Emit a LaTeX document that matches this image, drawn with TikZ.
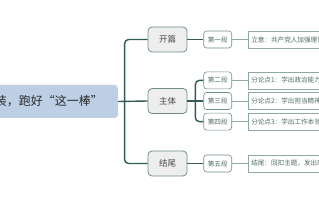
\documentclass[tikz,border=0pt]{standalone}
\usepackage{fontspec}
\newfontfamily\cjk{Noto Sans CJK SC}
\usetikzlibrary{positioning}
\definecolor{trunkc}{HTML}{2F5D55}
\definecolor{rootfill}{HTML}{BCCFE5}
\definecolor{partfill}{HTML}{EDEEED}
\definecolor{boxline}{HTML}{6F908A}
\definecolor{leafline}{HTML}{8EA8A2}
\definecolor{leaftext}{HTML}{4F6B66}
\definecolor{textc}{HTML}{2B2B2B}

\begin{document}
\begin{tikzpicture}[
  x=1pt, y=-1pt,
  font=\cjk,
  root/.style={fill=rootfill, rounded corners=3pt, minimum height=33pt,
               inner xsep=15pt, text=textc, font=\cjk\fontsize{12}{13}\selectfont},
  part/.style={draw=boxline, line width=0.8pt, fill=partfill, rounded corners=4pt,
               minimum width=39pt, minimum height=25pt, text=textc!85,
               font=\cjk\fontsize{8.5}{9}\selectfont},
  para/.style={draw=boxline, line width=0.6pt, fill=white, rounded corners=3pt,
               minimum width=28pt, minimum height=17pt, inner sep=1pt, text=leaftext,
               font=\cjk\fontsize{6.6}{7}\selectfont},
  point/.style={draw=leafline, line width=0.5pt, fill=white, minimum height=17pt,
                text width=100pt, align=left, inner xsep=3pt, text=leaftext,
                font=\cjk\fontsize{6.6}{7}\selectfont},
  trunk/.style={draw=trunkc, line width=1.4pt},
  twig/.style={draw=leafline, line width=0.6pt},
]
  \useasboundingbox (0,0) rectangle (319,200);

  \node[root, anchor=east] (theme) at (118,101.5) {装，跑好“这一棒”};

  \node[part] (open)  at (167.5,39.5) {开篇};
  \node[part] (body)  at (167.5,101)  {主体};
  \node[part] (close) at (167.5,163.5) {结尾};

  \node[para, right=16pt of open]  (p1) {第一段};
  \node[para, right=16pt of body]  (p3) {第三段};
  \node[para, above=3pt of p3]     (p2) {第二段};
  \node[para, below=3pt of p3]     (p4) {第四段};
  \node[para, right=16pt of close] (p5) {第五段};

  \node[point, right=16pt of p1] (t1) {立意：共产党人加强理论};
  \node[point, right=16pt of p2] (t2) {分论点1：学出政治能力};
  \node[point, right=16pt of p3] (t3) {分论点2：学出担当精神};
  \node[point, right=16pt of p4] (t4) {分论点3：学出工作本领};
  \node[point, right=16pt of p5] (t5) {结尾：回扣主题，发出时};

  % branches
  \coordinate (fork)  at ([xshift=-23pt]body.west);
  \coordinate (split) at ([xshift=8pt]body.east);
  \draw[trunk] (theme.east) -- (body.west);
  \draw[trunk, rounded corners=4pt] (open.west) -| (fork) |- (close.west);
  \draw[trunk] (open.east) -- (p1.west);
  \draw[trunk] (body.east) -- (p3.west);
  \draw[trunk, rounded corners=4pt] (p2.west) -| (split) |- (p4.west);
  \draw[trunk] (close.east) -- (p5.west);

  \foreach \a/\b in {p1/t1, p2/t2, p3/t3, p4/t4, p5/t5}
    \draw[twig] (\a.east) -- (\b.west);
\end{tikzpicture}
\end{document}
